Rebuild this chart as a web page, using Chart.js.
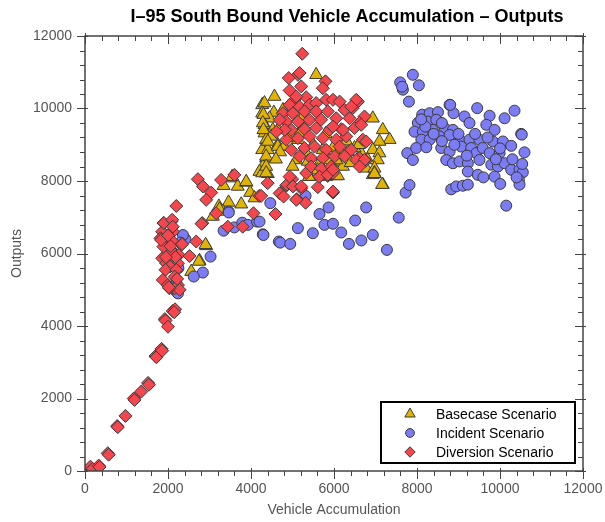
<!DOCTYPE html>
<html>
<head>
<meta charset="utf-8">
<script src="https://cdn.jsdelivr.net/npm/chart.js@4"></script>
<style>
  html, body { margin: 0; padding: 0; background: #fff; }
</style>
</head>
<body>
<canvas id="chart" width="605" height="522"></canvas>
<script>
// Vehicle accumulation vs. outputs, one [accumulation, outputs] pair per sample
const basecasePoints = [
  [4565,10330],[4270,10100],[4325,10150],[4550,9890],[4270,9870],[4445,9730],[4325,9550],[4525,9410],
  [4325,9320],[4365,9140],[4645,9000],[4270,8860],[4405,8860],[4365,8630],[4285,8400],[4205,8260],
  [4270,8220],[4405,8200],[3560,8080],[3340,7870],[3680,7850],[3885,7960],[3980,7680],[4085,7530],
  [3460,7410],[3765,7360],[3225,7300],[3320,7160],[3080,7020],[3545,8120],[3240,7220],[2920,6210],
  [2760,5800],[2560,5500],[2905,6240],[2745,5780],
  [5570,10930],[4300,9830],[4285,9600],[4300,9410],[4645,9410],[4485,9230],[4405,9090],[4645,8950],
  [4365,8680],[4805,8950],[5250,9500],[5130,9140],[5330,8770],[5090,8580],[5370,8540],[5730,8860],
  [5975,8910],[6135,8860],[5890,8580],[6135,8540],[6215,8400],[5650,8490],[5410,8120],[5810,8120],
  [6055,8140],[4365,8400],[3885,7980],[4770,9960],[5250,9780],[5170,9320],
  [6935,9730],[7175,9410],[7340,9140],[7095,9090],[6935,8860],[7095,8770],[7055,8580],[6935,8170],
  [7175,7900],[6655,8770],[6815,8580],[6495,8910],[6335,8810],[6055,8580],[6775,8350],[6975,8350],
  [6975,8220],[4365,8220],[5395,8120],[6095,8140],[6975,8200],[7160,7900],
  [4700,8800],[4900,9200],[5500,9000],[5800,9300],[6300,9100],[6600,9000],[4600,8600],[5000,8400],
  [5600,8300],[6400,8500]
];

const incidentPoints = [
  [3460,7160],[3340,6630],[3600,6720],[3790,6850],[3925,6790],[4145,6880],[4285,6530],[4670,6330],
  [4465,7390],[3025,5915],[2840,5475],[2620,5365],[2420,6395],[2200,4950],[2360,6510],[2240,4900],
  [2150,6000],[2250,5600],[2200,5200],[2300,6300],[3465,7130],
  [4205,6880],[4300,6510],[4705,6300],[4945,6265],[5130,6700],[5490,6560],[5650,7090],[5870,7270],
  [5770,6790],[5975,6820],[6175,6580],[6360,6265],[6510,6910],[6660,6360],[6775,7270],[6935,6510],
  [7275,6100],[7560,6990],[7725,7680],[7820,7890],[5315,7590],
  [7595,10720],[7660,10520],[7900,10930],[8045,10640],[7805,10190],[7765,8770],[7900,8580],[7640,10600],
  [8125,9830],[8305,9870],[8505,9900],[8785,10100],[8880,9870],[8020,9600],[8260,9640],[8465,9690],
  [7940,9360],[8140,9360],[8380,9410],[8665,9460],[8865,9410],[9145,9780],[9265,9600],[9450,10010],
  [9750,9800],[9670,9550],[9870,9410],[10110,9730],[10350,9940],[10510,9300],[10590,8790],[8105,9140],
  [8305,9140],[8545,9230],[8785,9270],[9025,9140],[9265,9140],[9505,9140],[9830,9090],[10070,9090],
  [10270,8970],[7980,8910],[8225,8930],[8585,8910],[8785,8810],[9065,8950],[9305,8910],[9430,8770],
  [9585,8910],[9750,8770],[9990,8770],[8705,8580],[8865,8490],[9025,8540],[9225,8490],[9505,8580],
  [9790,8450],[9950,8400],[10110,8490],[10270,8310],[10470,8310],[10550,8240],[9225,8260],[9465,8170],
  [9600,8100],[9870,8120],[10005,7920],[10455,8030],[10470,7900],[8825,7770],[8945,7850],[9105,7870],
  [9225,7900],[10150,7320],[8800,10100],[10525,9280],[10535,8470],
  [8200,9500],[8400,9300],[8600,9100],[9000,9300],[9400,9300],[9700,9200],[10000,8900],[10300,8600],
  [9200,8700],[8900,9000],[8100,9700],[8600,9600],[9900,8600],[10400,8100]
];

const diversionPoints = [
  [0,10],[130,120],[180,60],[330,150],[350,110],[550,490],[570,450],[775,1240],[790,1210],[975,1520],
  [1175,2000],[1195,1960],[1355,2190],[1520,2430],[1540,2380],[1700,3170],[1720,3140],[1845,3370],
  [1860,3320],[1925,4190],[1940,4150],[2000,3980],[2115,4415],[2170,4460],[2150,4380],
  [2200,7310],[1890,6840],[2080,6880],[2120,6600],[1860,6600],[1915,6375],[1820,6420],[2115,6330],
  [2320,6240],[1890,6190],[2100,6050],[2260,5960],[1860,5870],[2130,5820],[1955,5730],[2240,5730],
  [2050,5640],[1940,5550],[2200,5550],[2160,5360],[1875,5270],[1995,5130],[2240,5130],[2160,5040],
  [2280,5000],[2035,5040],[1900,6840],[2100,6930],[2115,6740],[2340,6260],[2020,5070],[1835,6375],
  [2180,5900],[2060,6200],[2000,6500],[1950,5900],[2220,5300],
  [2825,6840],[2680,6330],[2520,5930],[2720,8050],[2840,7850],[3040,7680],[2920,7480],[3280,8030],
  [3600,8170],[3160,7110],[3440,6740],[3800,6740],[4060,7110],[4200,7590],[4400,7940],[2810,6820],
  [4590,7090],[4990,8050],[4850,7870],[5210,7800],[4690,7660],[4785,7570],[5105,7500],[5315,7400],
  [4245,7590],[5610,7830],[5975,7680],[5330,8220],[5670,8140],[5850,8140],[5975,8220],[4865,7900],
  [5090,7480],
  [5235,11510],[5130,10930],[4910,10840],[5795,10750],[5730,10560],[4930,10500],[5210,10610],[5050,10240],
  [5330,10310],[4930,10100],[5170,10050],[5410,10100],[5570,10150],[5810,10240],[5975,10240],[6135,10190],
  [4770,9870],[5010,9870],[5290,9920],[5570,9920],[5850,9920],[6255,9960],[6575,10190],[6450,10010],
  [6735,9780],[4850,9640],[5130,9640],[5410,9690],[5690,9690],[6055,9730],[6375,9730],[6615,9600],
  [4970,9410],[5290,9430],[5570,9460],[5890,9410],[6175,9430],[6495,9460],[4850,9140],[5130,9180],
  [5410,9230],[5730,9180],[6055,9140],[6295,9230],[6695,9140],[4970,8860],[5290,8910],[5530,8950],
  [5810,8860],[6135,8950],[6415,8860],[5170,8680],[5450,8630],[5730,8630],[6015,8680],[6615,8630],
  [5450,8400],[5690,8350],[5935,8400],[5650,8120],[5850,8170],[4930,8120],[5010,7850],[5210,7850],
  [5170,10980],[5090,10330],[4815,9410],[6760,8560],[6535,10240],[6415,10050],[5975,9500],[6215,9410],
  [6655,9550],[6775,9090],[6255,8680],[6535,8580],[6735,8580],[6615,8400],[5975,8310],[5975,7710],
  [4690,9690],[4610,9360]
];

const axisMin = 0;
const axisMax = 12000;
const majorStep = 2000;
const minorStep = 400;

const seriesNames = ['Basecase Scenario', 'Incident Scenario', 'Diversion Scenario'];
const seriesColors = ['#E0B400', '#7C7CF4', '#F5464E'];
const seriesStyles = ['triangle', 'circle', 'rectRot'];
const seriesRadius = [7.5, 5.5, 6.5];
const edgeColor = '#3a3a3a';
const fontFamily = 'Arial, "Liberation Sans", sans-serif';

function toXY(list) {
  return list.map(p => ({ x: p[0], y: p[1] }));
}

// frame, in/out tick marks on all four sides, title, axis titles and boxed legend
const framePlugin = {
  id: 'framePlugin',
  afterDraw(chart) {
    const { ctx, chartArea: a, scales } = chart;
    const xs = scales.x, ys = scales.y;
    ctx.save();

    ctx.strokeStyle = '#444';
    ctx.lineWidth = 1.5;
    ctx.strokeRect(a.left, a.top, a.right - a.left, a.bottom - a.top);

    ctx.lineWidth = 1;
    ctx.beginPath();
    for (let v = axisMin; v <= axisMax; v += minorStep) {
      const major = v % majorStep === 0;
      const out = major ? 8 : 5;
      const inn = major ? 3 : 0;
      const px = Math.round(xs.getPixelForValue(v)) + 0.5;
      const py = Math.round(ys.getPixelForValue(v)) + 0.5;
      // bottom and left point outward
      ctx.moveTo(px, a.bottom - inn); ctx.lineTo(px, a.bottom + out);
      ctx.moveTo(a.left - out, py); ctx.lineTo(a.left + inn, py);
      // top and right mirror them
      ctx.moveTo(px, a.top - inn); ctx.lineTo(px, a.top + out);
      ctx.moveTo(a.right - out, py); ctx.lineTo(a.right + inn, py);
    }
    ctx.stroke();

    // title
    ctx.fillStyle = '#000';
    ctx.font = 'bold 18px ' + fontFamily;
    ctx.textAlign = 'center';
    ctx.textBaseline = 'middle';
    ctx.fillText('I\u201395 South Bound Vehicle Accumulation \u2013 Outputs', 347, 17);

    // axis titles
    ctx.fillStyle = '#555';
    ctx.font = '14px ' + fontFamily;
    ctx.fillText('Vehicle Accumulation', (a.left + a.right) / 2, 510);
    ctx.save();
    ctx.translate(17, (a.top + a.bottom) / 2);
    ctx.rotate(-Math.PI / 2);
    ctx.fillText('Outputs', 0, 0);
    ctx.restore();

    // legend box
    const bw = 194, bh = 61;
    const bx = a.right - 8 - bw, by = a.bottom - 8 - bh;
    ctx.fillStyle = '#fff';
    ctx.fillRect(bx, by, bw, bh);
    ctx.strokeStyle = '#000';
    ctx.lineWidth = 2;
    ctx.strokeRect(bx, by, bw, bh);
    ctx.font = '14px ' + fontFamily;
    ctx.textAlign = 'left';
    chart.data.datasets.forEach((ds, i) => {
      const rowY = by + 12 + i * 19;
      ctx.fillStyle = ds.backgroundColor;
      ctx.strokeStyle = ds.borderColor;
      ctx.lineWidth = 1;
      Chart.helpers.drawPoint(ctx, {
        pointStyle: ds.pointStyle,
        radius: ds.pointRadius * 0.8,
        borderWidth: 1,
        rotation: 0
      }, bx + 29, rowY);
      ctx.fillStyle = '#000';
      ctx.fillText(ds.label, bx + 55, rowY + 1);
    });

    ctx.restore();
  }
};

const allPoints = [basecasePoints, incidentPoints, diversionPoints];

new Chart(document.getElementById('chart'), {
  type: 'scatter',
  data: {
    datasets: allPoints.map((pts, i) => ({
      label: seriesNames[i],
      data: toXY(pts),
      pointStyle: seriesStyles[i],
      pointRadius: seriesRadius[i],
      pointHoverRadius: seriesRadius[i],
      backgroundColor: seriesColors[i],
      borderColor: edgeColor,
      borderWidth: 1,
      order: 3 - i
    }))
  },
  options: {
    responsive: false,
    animation: false,
    devicePixelRatio: 1,
    layout: { padding: { top: 36, right: 22, left: 0, bottom: 0 } },
    plugins: {
      legend: { display: false },
      tooltip: { enabled: false },
      title: { display: false }
    },
    scales: {
      x: {
        type: 'linear',
        min: axisMin,
        max: axisMax,
        grid: { display: false, drawTicks: false },
        border: { display: false },
        ticks: {
          stepSize: majorStep,
          padding: 10,
          color: '#555',
          font: { family: fontFamily, size: 14 },
          maxRotation: 0,
          callback: v => String(v)
        },
        afterFit(scale) {
          scale.height = 51;
          scale.paddingLeft = 0;
          scale.paddingRight = 0;
        }
      },
      y: {
        type: 'linear',
        min: axisMin,
        max: axisMax,
        grid: { display: false, drawTicks: false },
        border: { display: false },
        ticks: {
          stepSize: majorStep,
          padding: 13,
          color: '#555',
          font: { family: fontFamily, size: 14 },
          callback: v => String(v)
        },
        afterFit(scale) {
          scale.width = 85;
          scale.paddingTop = 0;
          scale.paddingBottom = 0;
        }
      }
    }
  },
  plugins: [framePlugin]
});
</script>
</body>
</html>
